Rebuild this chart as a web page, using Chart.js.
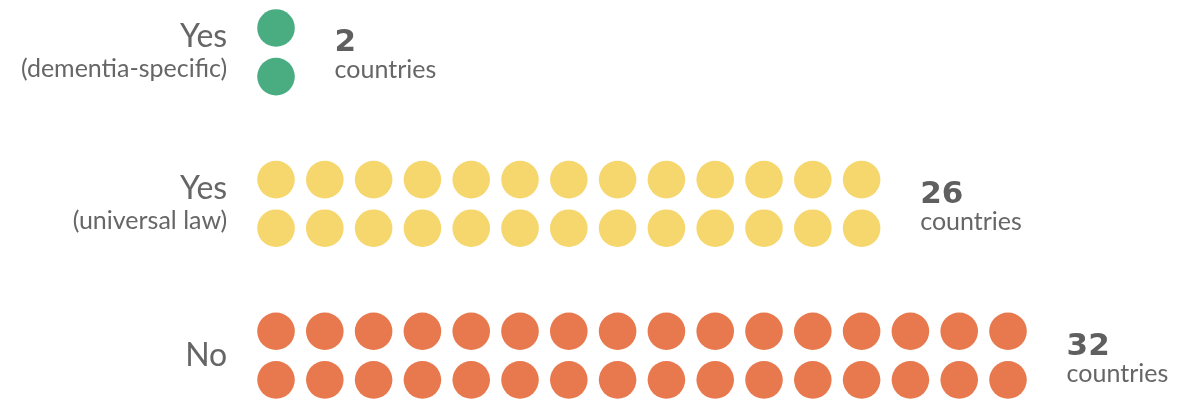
<!DOCTYPE html>
<html>
<head>
<meta charset="utf-8">
<script src="https://cdn.jsdelivr.net/npm/chart.js@4/dist/chart.umd.min.js"></script>
<style>
  html, body { margin: 0; padding: 0; background: #fff; }
  #wrap { width: 1179px; height: 399px; position: relative; }
</style>
</head>
<body>
<div id="wrap"><canvas id="dotChart"></canvas></div>
<script>
// data
const answers = ['Yes', 'Yes', 'No'];
const notes = ['(dementia-specific)', '(universal law)', ''];
const countries = [2, 26, 32];
const dotColors = ['#4aad82', '#f5d76e', '#e8794e'];

const ROWS = 2;        // dots stacked per column
const GROUP_STEP = 3.12; // vertical distance between groups, in dot units

function buildDots(idx) {
    const pts = [];
    for (let i = 0; i < countries[idx]; i++) {
        pts.push({ x: Math.floor(i / ROWS), y: idx * GROUP_STEP + (i % ROWS) });
    }
    return pts;
}

// labels left of the dots and the count to the right
const labelPlugin = {
    id: 'labels',
    afterDatasetsDraw(chart) {
        const ctx = chart.ctx;
        const xs = chart.scales.x, ys = chart.scales.y;
        ctx.save();
        answers.forEach((ans, i) => {
            const mid = ys.getPixelForValue(i * GROUP_STEP + 0.5);
            const left = xs.getPixelForValue(-1.0);
            ctx.fillStyle = '#666';
            ctx.textAlign = 'right';
            ctx.font = '32px Lato';
            if (notes[i]) {
                ctx.textBaseline = 'alphabetic';
                ctx.fillText(ans, left, mid - 5);
                ctx.font = '25px Lato';
                ctx.fillText(notes[i], left, mid + 25);
            } else {
                ctx.textBaseline = 'middle';
                ctx.fillText(ans, left, mid);
            }
            const lastCol = Math.ceil(countries[i] / ROWS) - 1;
            const right = xs.getPixelForValue(lastCol + 1.2);
            ctx.textAlign = 'left';
            ctx.textBaseline = 'alphabetic';
            ctx.fillStyle = '#5f5f5f';
            ctx.font = 'bold 31px "DejaVu Sans"';
            ctx.fillText(String(countries[i]), right, mid - 1);
            ctx.fillStyle = '#666';
            ctx.font = '25px Lato';
            ctx.fillText('countries', right, mid + 26);
        });
        ctx.restore();
    }
};

const dotChart = new Chart(document.getElementById('dotChart'), {
    type: 'scatter',
    data: {
        datasets: answers.map((a, i) => ({
            label: a + ' ' + notes[i],
            data: buildDots(i),
            backgroundColor: dotColors[i],
            borderWidth: 0,
            pointRadius: 18.8,
            pointHoverRadius: 18.8
        }))
    },
    options: {
        responsive: true,
        maintainAspectRatio: false,
        animation: false,
        layout: { padding: 0, autoPadding: false },
        plugins: { legend: { display: false }, tooltip: { enabled: false } },
        scales: {
            x: { type: 'linear', display: false, min: -5.656, max: 18.504 },
            y: { type: 'linear', display: false, reverse: true, min: -0.576, max: 7.634 }
        }
    },
    plugins: [labelPlugin]
});
</script>
</body>
</html>
